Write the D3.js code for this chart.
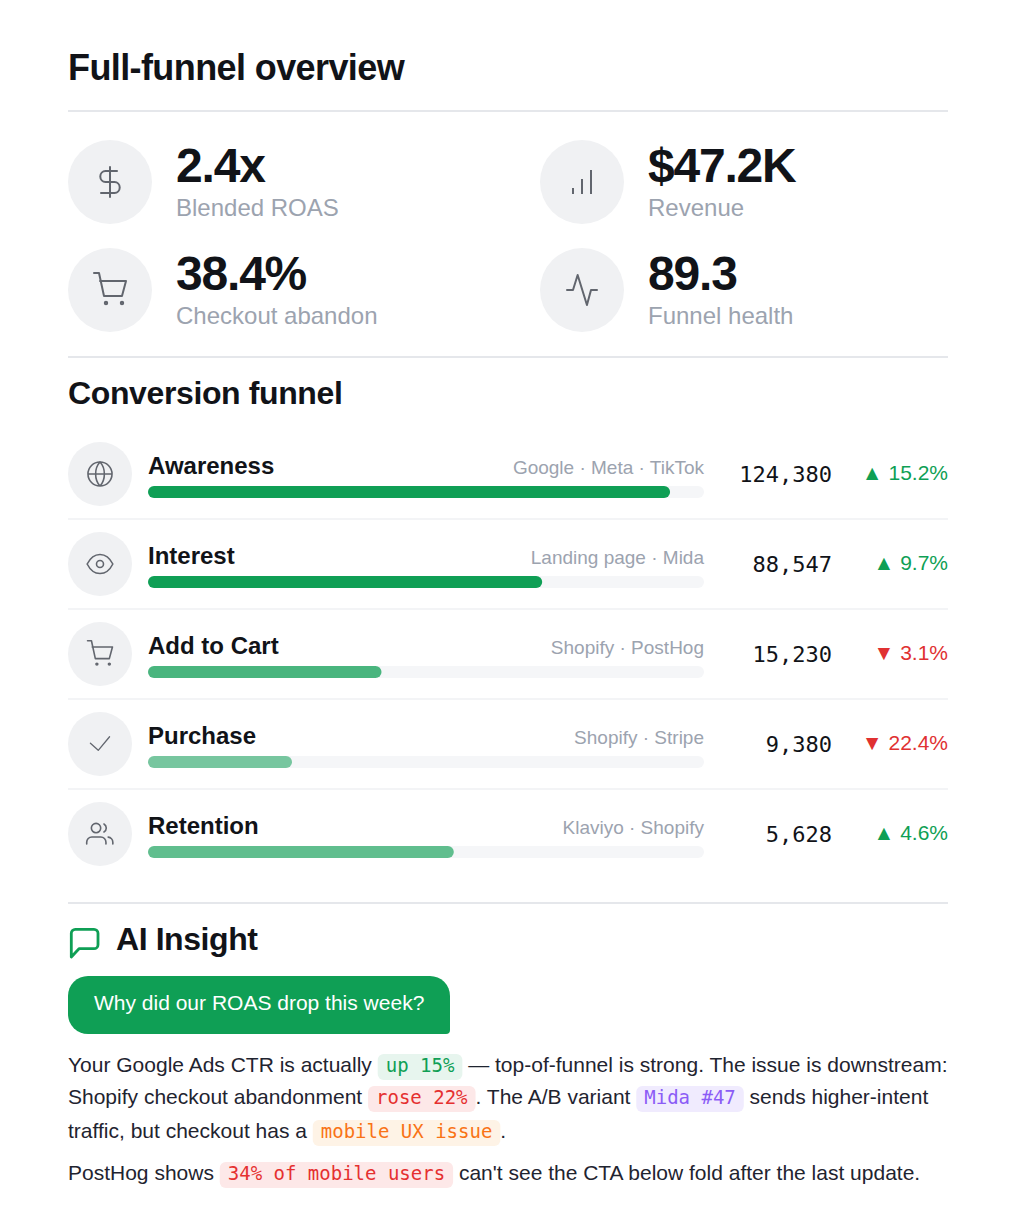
<!DOCTYPE html>
<html>
<head>
<meta charset="utf-8">
<script src="https://cdn.jsdelivr.net/npm/d3@7"></script>
<style>
html, body { margin: 0; background: #fff; }
svg { display: block; background: #fff; }
text { font-family: "Liberation Sans", Arial, sans-serif; }
.mono { font-family: "DejaVu Sans Mono", monospace; }
</style>
</head>
<body>
<div id="chart"></div>
<script>
// KPI data
const kpiValues = ["2.4x", "$47.2K", "38.4%", "89.3"];
const kpiLabels = ["Blended ROAS", "Revenue", "Checkout abandon", "Funnel health"];
const kpiIcons = ["dollar", "bars", "cart", "pulse"];

// funnel data
const stages = ["Awareness", "Interest", "Add to Cart", "Purchase", "Retention"];
const sources = ["Google · Meta · TikTok", "Landing page · Mida", "Shopify · PostHog", "Shopify · Stripe", "Klaviyo · Shopify"];
const counts = [124380, 88547, 15230, 9380, 5628];
const fillPct = [93.9, 70.9, 42, 25.9, 55];
const deltas = [15.2, 9.7, -3.1, -22.4, 4.6];
const fillOpacity = [1, 1, 0.75, 0.55, 0.65];
const stageIcons = ["globe", "eye", "cart", "check", "users"];

// insight text, each line is a list of [text, pill kind]
const insightLines = [
    [["Your Google Ads CTR is actually ", null], ["up 15%", "green"], [" — top-of-funnel is strong. The issue is downstream:", null]],
    [["Shopify checkout abandonment ", null], ["rose 22%", "red"], [". The A/B variant ", null], ["Mida #47", "purple"], [" sends higher-intent", null]],
    [["traffic, but checkout has a ", null], ["mobile UX issue", "orange"], [".", null]],
    [["PostHog shows ", null], ["34% of mobile users", "red"], [" can't see the CTA below fold after the last update.", null]]
];

const pillStyles = {
    green: {bg: "#e7f5ee", fg: "#0f9f55"},
    red: {bg: "#fde8e8", fg: "#e53030"},
    purple: {bg: "#f0ebfe", fg: "#8b5cf6"},
    orange: {bg: "#fef3e6", fg: "#f97316"}
};

// 图标 (24 x 24 box)
const iconPaths = {
    dollar: "M12 2V22M16.67 4.67H9A3.67 3.67 0 0 0 9 12H15A3.67 3.67 0 0 1 15 19.33H6",
    bars: "M6 20V16M12 20V10M18 20V4",
    cart: "M1.33 .67H4.67L8 16H20L22.67 6H5.33M8.53 20.67a.8.8 0 1 0 1.6 0a.8.8 0 1 0-1.6 0M19.2 20.67a.8.8 0 1 0 1.6 0a.8.8 0 1 0-1.6 0",
    pulse: "M2 12H6L9.1 2L15.3 22L18 12H22",
    globe: "M12 1.7A10.3 10.3 0 1 0 12 22.3A10.3 10.3 0 1 0 12 1.7M1.7 12H22.3M12 1.7C17 7 17 17 12 22.3C7 17 7 7 12 1.7",
    eye: "M1 12C4 6 8.5 3.8 12 3.8C15.5 3.8 20 6 23 12C20 18 15.5 20.2 12 20.2C8.5 20.2 4 18 1 12M12 9A3 3 0 1 0 12 15A3 3 0 1 0 12 9",
    check: "M3.8 11.4L10.5 17.4L20.2 5.8",
    users: "M8.6 2.9A4 4 0 1 0 8.6 10.9A4 4 0 1 0 8.6 2.9M.6 20.6V19A4.4 4.4 0 0 1 5 14.6H12.7A4.4 4.4 0 0 1 17.1 19V20.6M15.4 3.4A4 4 0 0 1 15.4 10.3M19 14.7A4.4 4.4 0 0 1 23 19V20.6",
    chat: "M2.87 22V6.2A2.67 2.67 0 0 1 5.54 3.53H18A2.67 2.67 0 0 1 20.67 6.2V13.8A2.67 2.67 0 0 1 18 16.47H8Z"
};

const width = 1016, height = 1228;
const left = 68, right = 948;
const iconColor = "#62666e";
const svg = d3.select("#chart").append("svg").attr("width", width).attr("height", height);

function rule(y, color) {
    svg.append("rect").attr("x", left).attr("y", y).attr("width", right - left).attr("height", 2).attr("fill", color);
}

function label(x, y, str, size, color, opts = {}) {
    return svg.append("text")
        .attr("x", x).attr("y", y)
        .attr("font-size", size)
        .attr("fill", color)
        .attr("font-weight", opts.weight || 400)
        .attr("letter-spacing", opts.spacing || 0)
        .attr("text-anchor", opts.anchor || "start")
        .attr("class", opts.cls || null)
        .text(str);
}

function icon(name, cx, cy, size, stroke, sw) {
    const k = size / 24;
    svg.append("path")
        .attr("d", iconPaths[name])
        .attr("transform", `translate(${cx - size / 2},${cy - size / 2}) scale(${k})`)
        .attr("fill", "none")
        .attr("stroke", stroke)
        .attr("stroke-width", sw / k)
        .attr("stroke-linecap", name === "bars" ? "butt" : "round")
        .attr("stroke-linejoin", "round");
}

// 标题
label(left, 80, "Full-funnel overview", 36, "#111318", {weight: 700, spacing: -0.6});
rule(110, "#e5e7eb");

// KPI
const kpiX = d3.scalePoint().domain([0, 1]).range([110, 582]);
const kpiY = d3.scalePoint().domain([0, 1]).range([182, 290]);
kpiValues.forEach((v, i) => {
    const cx = kpiX(i % 2), cy = kpiY(Math.floor(i / 2));
    svg.append("circle").attr("cx", cx).attr("cy", cy).attr("r", 42).attr("fill", "#f0f1f3");
    icon(kpiIcons[i], cx, cy, 36, iconColor, 2);
    label(cx + 66, cy, v, 48, "#111318", {weight: 700, spacing: -1.2});
    label(cx + 66, cy + 34, kpiLabels[i], 24, "#9ca3af");
});
rule(356, "#e5e7eb");

// 漏斗
label(left, 404, "Conversion funnel", 32, "#111318", {weight: 700, spacing: -0.38});

const trackX = 148, trackW = 556, rowH = 90, rowTop = 474;
const xScale = d3.scaleLinear().domain([0, 100]).range([0, trackW]);
const rowY = d3.scaleLinear().domain([0, 1]).range([rowTop, rowTop + rowH]);
const fmt = d3.format(",");

stages.forEach((s, i) => {
    const cy = rowY(i);
    svg.append("circle").attr("cx", 100).attr("cy", cy).attr("r", 32).attr("fill", "#f0f1f3");
    icon(stageIcons[i], 100, cy, 28, iconColor, stageIcons[i] === "check" ? 1.3 : 1.6);
    label(trackX, cy, s, 24, "#111318", {weight: 700});
    label(trackW + trackX, cy, sources[i], 19, "#9ca3af", {anchor: "end"});
    svg.append("rect").attr("x", trackX).attr("y", cy + 12).attr("width", trackW).attr("height", 12).attr("rx", 6).attr("fill", "#f5f6f8");
    svg.append("rect").attr("x", trackX).attr("y", cy + 12).attr("width", xScale(fillPct[i])).attr("height", 12).attr("rx", 6)
        .attr("fill", "#0f9f55").attr("fill-opacity", fillOpacity[i]);
    label(832, cy + 8, fmt(counts[i]), 22, "#111318", {anchor: "end", cls: "mono"});
    const up = deltas[i] >= 0;
    label(948, cy + 6, (up ? "▲ " : "▼ ") + Math.abs(deltas[i]).toFixed(1) + "%", 21, up ? "#0f9f55" : "#e03131", {anchor: "end"});
    if (i < stages.length - 1) rule(cy + 44, "#f3f4f6");
});
rule(902, "#e5e7eb");

// AI Insight
icon("chat", 85, 942, 36, "#0f9f55", 2.8);
label(116, 950, "AI Insight", 32, "#111318", {weight: 700, spacing: -0.42});
// 气泡按钮，右下角是小圆角
svg.append("path")
    .attr("d", "M68 996A20 20 0 0 1 88 976H430A20 20 0 0 1 450 996V1030A4 4 0 0 1 446 1034H88A20 20 0 0 1 68 1014Z")
    .attr("fill", "#0f9f55");
label(94, 1010, "Why did our ROAS drop this week?", 21, "#ffffff");

const lineY = [1072, 1104, 1138, 1180];
insightLines.forEach((line, li) => {
    let x = left;
    line.forEach(([str, kind]) => {
        if (kind) {
            const st = pillStyles[kind];
            const bg = svg.append("rect").attr("y", lineY[li] - 18).attr("height", 26).attr("rx", 6).attr("fill", st.bg);
            const t = label(x + 8, lineY[li], str, 19, st.fg, {cls: "mono"});
            const w = t.node().getComputedTextLength();
            bg.attr("x", x).attr("width", w + 16);
            x += w + 16;
        } else {
            const t = label(x, lineY[li], str, 21, "#1f2430").style("white-space", "pre");
            x += t.node().getComputedTextLength();
        }
    });
});
</script>
</body>
</html>
